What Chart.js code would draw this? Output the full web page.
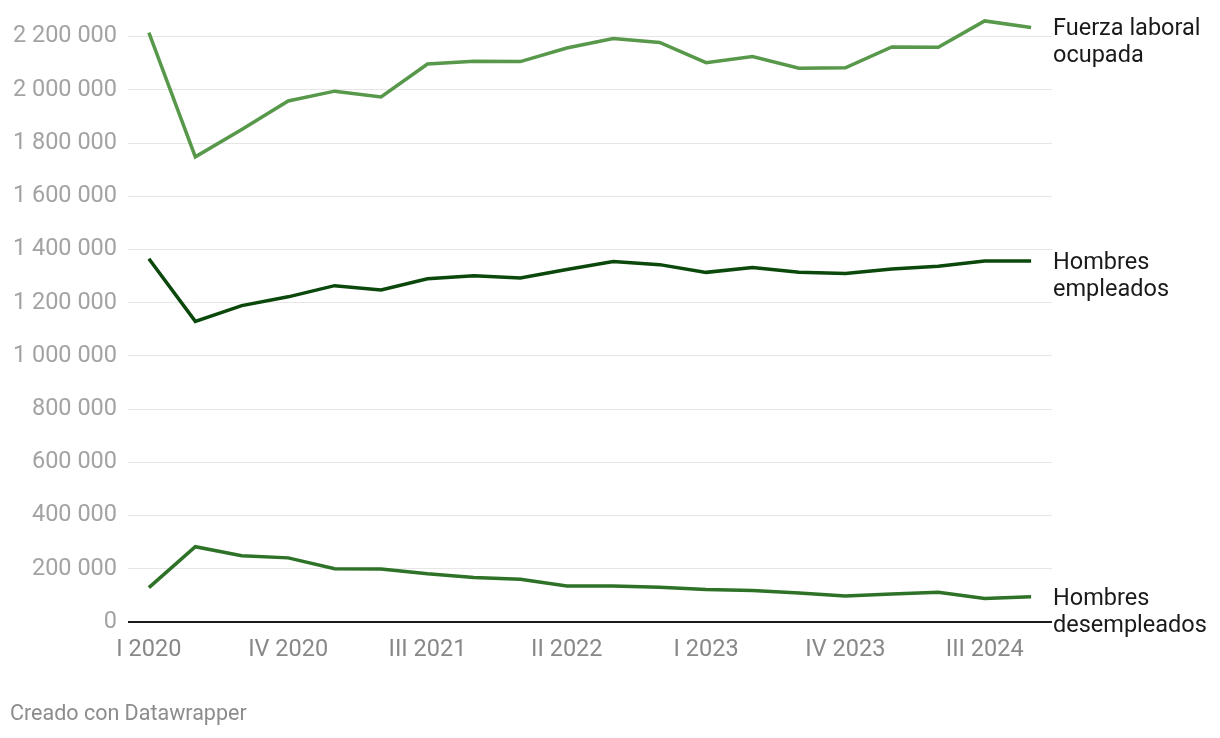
<!DOCTYPE html>
<html>
<head>
<meta charset="utf-8">
<script src="https://cdn.jsdelivr.net/npm/chart.js@4/dist/chart.umd.min.js"></script>
<style>
  html, body { margin: 0; padding: 0; background: #fff; }
  #wrap { position: relative; width: 1220px; height: 738px; }
</style>
</head>
<body>
<div id="wrap"><canvas id="chart" width="1220" height="738"></canvas></div>
<script>
// ---- datos ----
const quarters = [
  'I 2020', 'II 2020', 'III 2020', 'IV 2020',
  'I 2021', 'II 2021', 'III 2021', 'IV 2021',
  'I 2022', 'II 2022', 'III 2022', 'IV 2022',
  'I 2023', 'II 2023', 'III 2023', 'IV 2023',
  'I 2024', 'II 2024', 'III 2024', 'IV 2024'
];
const fuerzaOcupada = [2215000, 1748000, 1851000, 1958000, 1995000, 1973000, 2097000, 2107000, 2106000, 2157000,
  2193000, 2178000, 2102000, 2125000, 2081000, 2083000, 2161000, 2160000, 2259000, 2234000];
const hombresEmpleados = [1365000, 1130000, 1189000, 1222000, 1264000, 1248000, 1290000, 1301000, 1293000, 1325000,
  1355000, 1343000, 1314000, 1332000, 1314000, 1310000, 1327000, 1337000, 1357000, 1357000];
const hombresDesempleados = [129000, 283000, 249000, 241000, 200000, 199000, 181000, 167000, 161000, 135000,
  135000, 131000, 122000, 118000, 109000, 98000, 105000, 112000, 88000, 95000];
const yTicks = [0, 200000, 400000, 600000, 800000, 1000000, 1200000, 1400000, 1600000, 1800000, 2000000, 2200000];
const xTickIdx = [0, 3, 6, 9, 12, 15, 18];
const seriesLabels = [['Fuerza laboral', 'ocupada'], ['Hombres', 'empleados'], ['Hombres', 'desempleados']];

const FONT = 'Roboto, "Noto Sans", sans-serif';
const fmt = v => String(v).replace(/\B(?=(\d{3})+(?!\d))/g, ' ');
const pts = arr => arr.map((v, i) => ({ x: i, y: v }));

// etiquetas a la derecha + pie
const labelsPlugin = {
  id: 'endLabels',
  afterDraw(chart) {
    const ctx = chart.ctx;
    const y = chart.scales.y;
    ctx.save();
    ctx.font = '23.5px ' + FONT;
    ctx.fillStyle = '#1a1a1a';
    ctx.textBaseline = 'middle';
    ctx.textAlign = 'left';
    chart.data.datasets.forEach((ds, i) => {
      const last = ds.data[ds.data.length - 1];
      const py = y.getPixelForValue(last.y);
      seriesLabels[i].forEach((t, k) => ctx.fillText(t, chart.chartArea.right + 1, py + 2 + k * 27));
    });
    ctx.font = '21.5px ' + FONT;
    ctx.fillStyle = '#8c8c8c';
    ctx.fillText('Creado con Datawrapper', 10, 715);
    ctx.restore();
  }
};

new Chart(document.getElementById('chart').getContext('2d'), {
  type: 'line',
  data: {
    datasets: [
      { data: pts(fuerzaOcupada), borderColor: '#58984a', borderWidth: 3.5 },
      { data: pts(hombresEmpleados), borderColor: '#0b480b', borderWidth: 3.5 },
      { data: pts(hombresDesempleados), borderColor: '#2e7228', borderWidth: 3.5 }
    ]
  },
  options: {
    responsive: false,
    animation: false,
    events: [],
    layout: { padding: { top: 10, right: 168, bottom: 76, left: 0 } },
    elements: { point: { radius: 0 }, line: { tension: 0, borderCapStyle: 'butt', borderJoinStyle: 'miter' } },
    plugins: { legend: { display: false }, tooltip: { enabled: false } },
    scales: {
      x: {
        type: 'linear',
        min: -0.45,
        max: 19.45,
        afterBuildTicks: s => { s.ticks = xTickIdx.map(v => ({ value: v })); },
        afterFit: s => { s.height = 40; },
        grid: { display: false, drawTicks: false },
        border: { display: false },
        ticks: { padding: 14, color: '#888', font: { family: FONT, size: 23.5 }, maxRotation: 0, callback: v => quarters[v] }
      },
      y: {
        min: 0,
        max: 2300000,
        afterBuildTicks: s => { s.ticks = yTicks.map(v => ({ value: v })); },
        afterFit: s => { s.width = 128; s.paddingTop = 0; s.paddingBottom = 0; },
        grid: {
          drawTicks: false,
          color: c => c.tick && c.tick.value === 0 ? '#1a1a1a' : '#e6e6e6',
          lineWidth: c => c.tick && c.tick.value === 0 ? 2 : 1
        },
        border: { display: false },
        ticks: { padding: 11, color: '#a3a3a3', font: { family: FONT, size: 23.5 }, callback: v => fmt(v) }
      }
    }
  },
  plugins: [labelsPlugin]
});
</script>
</body>
</html>
